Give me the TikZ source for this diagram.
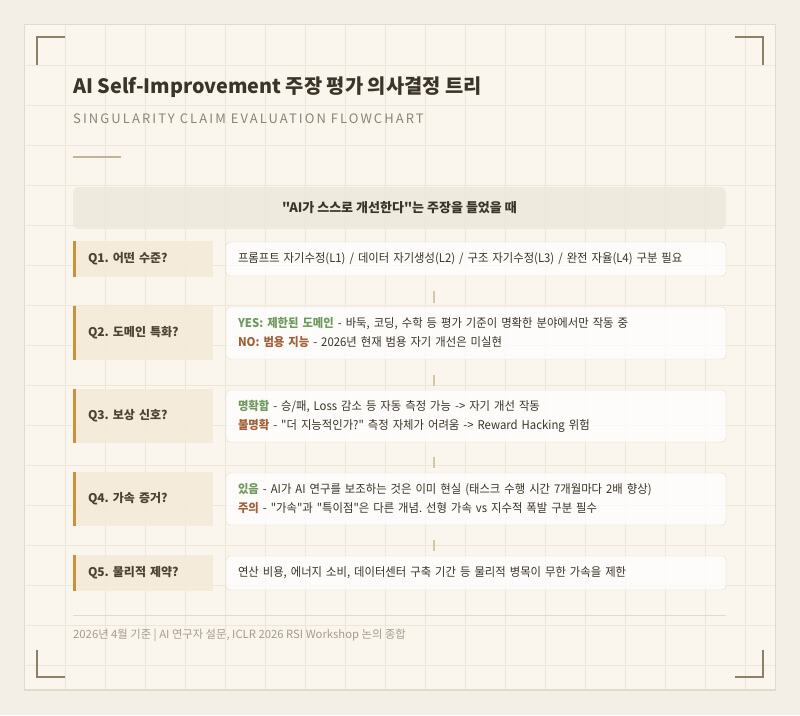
\documentclass[tikz,border=0pt]{standalone}
\usepackage{fontspec}
\setmainfont{Noto Sans CJK KR}[Ligatures=TeXOff]
\usepackage{tikz}
\usetikzlibrary{positioning}
\definecolor{pagebg}{HTML}{F3EFE7}
\definecolor{cardbg}{HTML}{FAF6EE}
\definecolor{cardline}{HTML}{E2DBCB}
\definecolor{gridline}{HTML}{EEE7D9}
\definecolor{bracket}{HTML}{8C8068}
\definecolor{ink}{HTML}{3B3528}
\definecolor{subink}{HTML}{8C8474}
\definecolor{footink}{HTML}{A69C8A}
\definecolor{rulegold}{HTML}{C4B496}
\definecolor{hdrbg}{HTML}{EDE8DC}
\definecolor{qbg}{HTML}{F3EAD7}
\definecolor{qbar}{HTML}{C8923A}
\definecolor{qink}{HTML}{4B4232}
\definecolor{boxline}{HTML}{E2DACB}
\definecolor{okgreen}{HTML}{6E9A5E}
\definecolor{nobrown}{HTML}{A2603A}
\definecolor{linkcol}{HTML}{D5C7A5}
\tikzset{
	qlabel/.style={fill=qbg, fill opacity=0.85, text opacity=1, text=qink, inner xsep=15pt, inner ysep=0pt, text width=110pt, align=left, font=\fontsize{12}{15}\selectfont\bfseries},
	answer/.style={draw=boxline, fill=white, fill opacity=0.75, text opacity=1, text=ink, rounded corners=4pt, inner xsep=12pt, inner ysep=0pt, text width=476pt, align=left, font=\fontsize{12}{19}\selectfont\addfontfeatures{FakeStretch=0.945}},
	link/.style={draw=linkcol, line width=2pt},
	corner/.style={draw=bracket, line width=2pt}
}
\newcommand{\qrow}[5] % {id}{y}{height}{question}{answer}
{
	\node[qlabel, minimum height=#3] (q#1) at (143,#2) {#4};
	\draw[qbar, line width=3pt] ([xshift=1.5pt]q#1.north west) -- ([xshift=1.5pt]q#1.south west);
	\node[answer, minimum height=#3-2] (a#1) at (476,#2) {#5};
}
\newcommand{\yes}[1]{\textcolor{okgreen}{\bfseries #1}}
\newcommand{\no}[1]{\textcolor{nobrown}{\bfseries #1}}
\begin{document}
\frenchspacing
\begin{tikzpicture}[x=1pt, y=-1pt]
	\useasboundingbox (0,0) rectangle (800,715);
	\fill[pagebg] (0,0) rectangle (800,715);
	\draw[cardline, fill=cardbg, line width=1.5pt] (24.5,24.5) rectangle (775.5,690);
	
	\foreach \x in {65,105,...,745}
		\draw[gridline, line width=1pt] (\x,25.5) -- (\x,689);
	\foreach \y in {65,105,...,665}
		\draw[gridline, line width=1pt] (25.5,\y) -- (775,\y);
	
	\draw[corner] (37,65) -- (37,37) -- (65,37);
	\draw[corner] (735,37) -- (763,37) -- (763,65);
	\draw[corner] (37,650) -- (37,677) -- (65,677);
	\draw[corner] (735,677) -- (763,677) -- (763,650);
	
	\node[anchor=base west, inner sep=0pt, text=ink, font=\fontsize{19.8}{22}\selectfont\bfseries] (title) at (73,93) {AI Self-Improvement 주장 평가 의사결정 트리};
	\node[anchor=base west, inner sep=0pt, text=subink, font=\fontsize{13}{15}\selectfont\addfontfeatures{LetterSpace=16}] (subtitle) at (73,123) {SINGULARITY CLAIM EVALUATION FLOWCHART};
	\draw[rulegold, line width=2pt] (73,157) -- (121,157);
	
	\node[fill=hdrbg, fill opacity=0.85, text opacity=1, text=ink, rounded corners=6pt, minimum width=653pt, minimum height=42pt, inner sep=0pt, font=\fontsize{13}{15}\selectfont\bfseries] (hdr) at (399.5,208) {"AI가 스스로 개선한다"는 주장을 들었을 때};
	
	\qrow{1}{259}{36}{Q1. 어떤 수준?}{프롬프트 자기수정(L1) / 데이터 자기생성(L2) / 구조 자기수정(L3) / 완전 자율(L4) 구분 필요}
	\qrow{2}{333}{54}{Q2. 도메인 특화?}{\yes{YES: 제한된 도메인} - 바둑, 코딩, 수학 등 평가 기준이 명확한 분야에서만 작동 중\\\no{NO: 범용 지능} - 2026년 현재 범용 자기 개선은 미실현}
	\qrow{3}{416}{54}{Q3. 보상 신호?}{\yes{명확함} - 승/패, Loss 감소 등 자동 측정 가능 -> 자기 개선 작동\\\no{불명확} - "더 지능적인가?" 측정 자체가 어려움 -> Reward Hacking 위험}
	\qrow{4}{499}{54}{Q4. 가속 증거?}{\yes{있음} - AI가 AI 연구를 보조하는 것은 이미 현실 (태스크 수행 시간 7개월마다 2배 향상)\\\no{주의} - "가속"과 "특이점"은 다른 개념. 선형 가속 vs 지수적 폭발 구분 필수}
	\qrow{5}{573}{36}{Q5. 물리적 제약?}{연산 비용, 에너지 소비, 데이터센터 구축 기간 등 물리적 병목이 무한 가속을 제한}
	
	\foreach \n/\ya/\yb in {1/291/303, 2/375/386, 3/457/468, 4/540/551}
	{
		\coordinate (lt\n) at (434,\ya);
		\coordinate (lb\n) at (434,\yb);
		\draw[link] (lt\n) -- (lb\n);
	}
	
	\draw[cardline, line width=1pt] (73,615) -- (726,615);
	\node[anchor=west, inner sep=0pt, text=footink, font=\fontsize{11.3}{13}\selectfont] (foot) at (73,635) {2026년 4월 기준 | AI 연구자 설문, ICLR 2026 RSI Workshop 논의 종합};
\end{tikzpicture}
\end{document}
